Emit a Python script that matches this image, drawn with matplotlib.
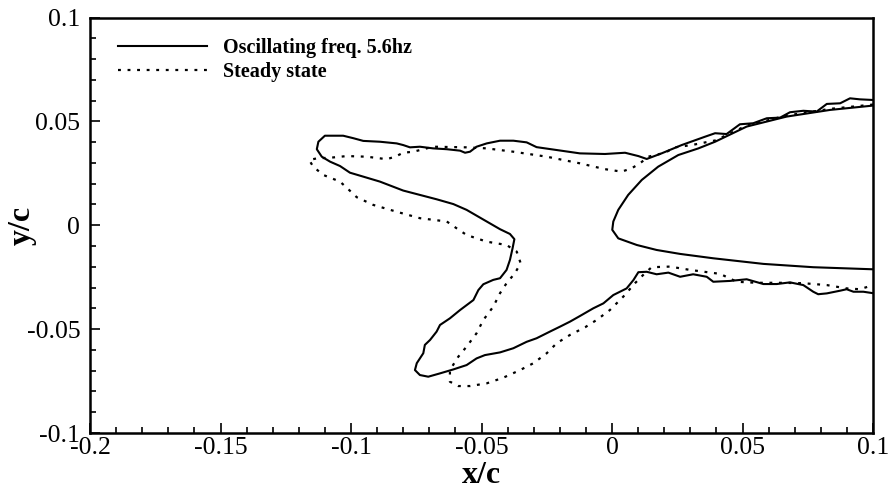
import matplotlib
matplotlib.use("Agg")
import matplotlib.pyplot as plt
from matplotlib.ticker import MultipleLocator, FuncFormatter

# ---- data (x/c, y/c) ----
osc_x = [0.1000, 0.0950, 0.0912, 0.0874, 0.0823, 0.0784, 0.0733, 0.0682, 0.0644, 0.0593,
         0.0541, 0.0490, 0.0439, 0.0395, 0.0356, 0.0267, 0.0190, 0.0133, 0.0101, 0.0050,
         -0.0027, -0.0123, -0.0289, -0.0327, -0.0378, -0.0429, -0.0480, -0.0519, -0.0544, -0.0563,
         -0.0582, -0.0633, -0.0685, -0.0736, -0.0774, -0.0800, -0.0825, -0.0889, -0.0953, -0.0991,
         -0.1030, -0.1100, -0.1125, -0.1131, -0.1112, -0.1080, -0.1042, -0.1004, -0.0953, -0.0889,
         -0.0800, -0.0736, -0.0672, -0.0608, -0.0557, -0.0480, -0.0429, -0.0391, -0.0374, -0.0381,
         -0.0391, -0.0404, -0.0429, -0.0455, -0.0493, -0.0512, -0.0531, -0.0582, -0.0621, -0.0659,
         -0.0672, -0.0697, -0.0717, -0.0723, -0.0748, -0.0755, -0.0736, -0.0704, -0.0659, -0.0608,
         -0.0557, -0.0519, -0.0487, -0.0429, -0.0378, -0.0327, -0.0289, -0.0238, -0.0199, -0.0161,
         -0.0123, -0.0072, -0.0033, 0.0005, 0.0056, 0.0082, 0.0101, 0.0133, 0.0171, 0.0216,
         0.0261, 0.0311, 0.0363, 0.0388, 0.0452, 0.0516, 0.0580, 0.0631, 0.0682, 0.0733,
         0.0771, 0.0790, 0.0823, 0.0874, 0.0899, 0.0925, 0.0963, 0.1000]
osc_y = [0.0603, 0.0606, 0.0611, 0.0587, 0.0584, 0.0547, 0.0551, 0.0544, 0.0518, 0.0515,
         0.0491, 0.0486, 0.0439, 0.0443, 0.0426, 0.0386, 0.0346, 0.0319, 0.0333, 0.0349,
         0.0343, 0.0346, 0.0376, 0.0399, 0.0407, 0.0407, 0.0394, 0.0378, 0.0354, 0.0349,
         0.0359, 0.0366, 0.0370, 0.0378, 0.0375, 0.0386, 0.0394, 0.0402, 0.0406, 0.0419,
         0.0431, 0.0431, 0.0402, 0.0366, 0.0330, 0.0306, 0.0285, 0.0253, 0.0234, 0.0210,
         0.0167, 0.0146, 0.0125, 0.0102, 0.0074, 0.0018, -0.0019, -0.0042, -0.0067, -0.0111,
         -0.0167, -0.0215, -0.0255, -0.0263, -0.0284, -0.0312, -0.0360, -0.0408, -0.0448, -0.0480,
         -0.0512, -0.0552, -0.0576, -0.0616, -0.0664, -0.0697, -0.0721, -0.0729, -0.0713, -0.0694,
         -0.0673, -0.0641, -0.0625, -0.0612, -0.0592, -0.0561, -0.0544, -0.0512, -0.0488, -0.0464,
         -0.0437, -0.0400, -0.0376, -0.0336, -0.0304, -0.0264, -0.0226, -0.0224, -0.0236, -0.0228,
         -0.0248, -0.0236, -0.0248, -0.0272, -0.0268, -0.0260, -0.0283, -0.0283, -0.0275, -0.0288,
         -0.0320, -0.0332, -0.0328, -0.0315, -0.0308, -0.0320, -0.0320, -0.0327]

steady_x = [0.1000, 0.0835, 0.0669, 0.0516, 0.0395, 0.0305, 0.0241, 0.0203, 0.0139, 0.0107,
            0.0075, 0.0037, -0.0027, -0.0123, -0.0250, -0.0378, -0.0480, -0.0557, -0.0685, -0.0761,
            -0.0800, -0.0831, -0.0863, -0.0940, -0.1016, -0.1080, -0.1131, -0.1160, -0.1145, -0.1106,
            -0.1042, -0.1010, -0.0978, -0.0915, -0.0825, -0.0736, -0.0633, -0.0595, -0.0557, -0.0480,
            -0.0404, -0.0365, -0.0350, -0.0372, -0.0404, -0.0429, -0.0455, -0.0493, -0.0519, -0.0557,
            -0.0589, -0.0621, -0.0621, -0.0589, -0.0544, -0.0480, -0.0417, -0.0352, -0.0301, -0.0250,
            -0.0212, -0.0161, -0.0103, -0.0059, -0.0008, 0.0043, 0.0088, 0.0126, 0.0152, 0.0222,
            0.0299, 0.0414, 0.0478, 0.0554, 0.0644, 0.0733, 0.0823, 0.0899, 0.0950, 0.1000]
steady_y = [0.0581, 0.0560, 0.0528, 0.0480, 0.0408, 0.0386, 0.0375, 0.0349, 0.0330, 0.0298,
            0.0274, 0.0258, 0.0270, 0.0298, 0.0330, 0.0354, 0.0370, 0.0375, 0.0378, 0.0354,
            0.0349, 0.0330, 0.0318, 0.0330, 0.0333, 0.0325, 0.0322, 0.0314, 0.0282, 0.0242,
            0.0210, 0.0173, 0.0135, 0.0098, 0.0065, 0.0034, 0.0018, -0.0015, -0.0047, -0.0079,
            -0.0095, -0.0127, -0.0183, -0.0231, -0.0279, -0.0327, -0.0392, -0.0456, -0.0520, -0.0584,
            -0.0633, -0.0697, -0.0753, -0.0774, -0.0774, -0.0761, -0.0734, -0.0697, -0.0664, -0.0616,
            -0.0568, -0.0528, -0.0491, -0.0456, -0.0408, -0.0344, -0.0279, -0.0231, -0.0202, -0.0199,
            -0.0215, -0.0234, -0.0272, -0.0277, -0.0277, -0.0279, -0.0288, -0.0304, -0.0308, -0.0288]

airfoil_x = [0.1000, 0.0835, 0.0669, 0.0516, 0.0395, 0.0331, 0.0254, 0.0177, 0.0114, 0.0062,
             0.0024, 0.0005, 0.0001, 0.0024, 0.0095, 0.0171, 0.0261, 0.0388, 0.0580, 0.0771, 0.1000]
airfoil_y = [0.0576, 0.0555, 0.0523, 0.0475, 0.0402, 0.0370, 0.0338, 0.0282, 0.0218, 0.0146,
             0.0074, 0.0018, -0.0022, -0.0063, -0.0095, -0.0119, -0.0138, -0.0159, -0.0186, -0.0202, -0.0212]

labels = ["Oscillating freq. 5.6hz", "Steady state"]

plt.rcParams['font.family'] = ['Liberation Serif', 'DejaVu Serif']

fig = plt.figure(figsize=(8.91, 4.96), dpi=100)
ax = fig.add_axes([90/891, 1 - 433/496, 783/891, 415.5/496])

ax.plot(osc_x, osc_y, color='black', lw=1.5, label=labels[0], solid_joinstyle='round')
ax.plot(steady_x, steady_y, color='black', lw=1.6, ls=(0, (1.3, 3.0)), label=labels[1])
ax.plot(airfoil_x, airfoil_y, color='black', lw=1.5, solid_joinstyle='round')

ax.set_xlim(-0.2, 0.1)
ax.set_ylim(-0.1, 0.1)
ax.xaxis.set_major_locator(MultipleLocator(0.05))
ax.xaxis.set_minor_locator(MultipleLocator(0.01))
ax.yaxis.set_major_locator(MultipleLocator(0.05))
ax.yaxis.set_minor_locator(MultipleLocator(0.01))

def fmt(v, pos):
    if abs(v) < 1e-9:
        return "0"
    return ("%g" % round(v, 3))
ax.xaxis.set_major_formatter(FuncFormatter(fmt))
ax.yaxis.set_major_formatter(FuncFormatter(fmt))

ax.tick_params(which='both', direction='in', top=False, right=False, width=1.2, labelsize=18.5)
ax.tick_params(axis='x', which='major', length=7.5, pad=3)
ax.tick_params(axis='y', which='major', length=7.5, pad=7)
ax.tick_params(which='minor', length=4.5)
for s in ax.spines.values():
    s.set_linewidth(1.8)

ax.set_xlabel("x/c", fontsize=23, fontweight='bold', labelpad=1)
ax.set_ylabel("y/c", fontsize=23, fontweight='bold')
ax.yaxis.set_label_coords(-0.068, 0.5)

ax.legend(loc='upper left', bbox_to_anchor=(0.036, 0.951), frameon=False,
          borderpad=0, borderaxespad=0, handlelength=4.4, handletextpad=0.8,
          labelspacing=0.22, prop={'weight': 'bold', 'size': 14.5})

fig.savefig("out.png", dpi=100)
